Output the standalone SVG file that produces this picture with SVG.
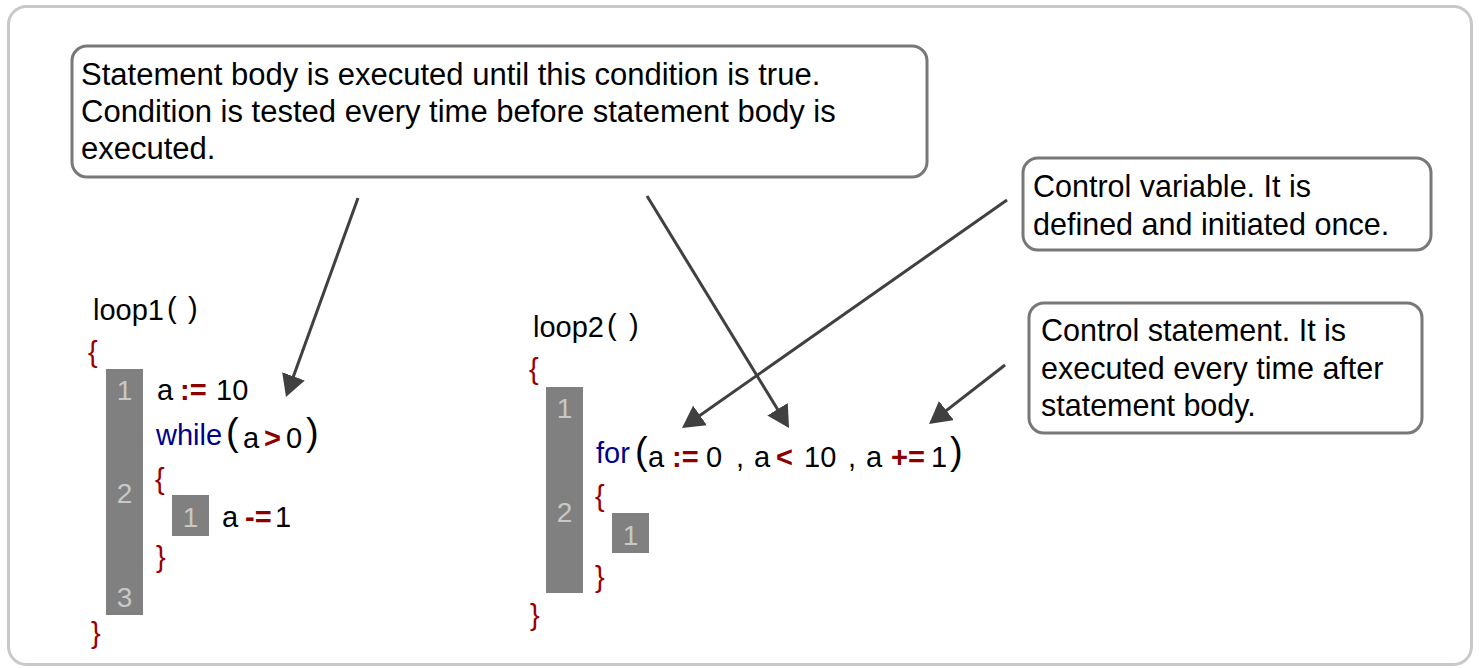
<svg xmlns="http://www.w3.org/2000/svg" width="1479" height="668" viewBox="0 0 1479 668">
<style>
text{font-family:"Liberation Sans",Arial,sans-serif;fill:#000}
.c1{font-size:31px}
.c2{font-size:30.5px}
.code{font-size:29px}
.op{font-size:29px;font-weight:bold;fill:#8b0000}
.kw{font-size:29px;fill:#00008b}
.br{font-size:29px;fill:#990000}
.par{font-size:38px}
.num{font-size:28px;fill:#c8c8c8;text-anchor:middle}
.box{fill:#fff;stroke:#787878;stroke-width:3}
.bar{fill:#808080}
.conn line{stroke:#404040;stroke-width:3;marker-end:url(#ah)}
</style>
<defs>
<marker id="ah" viewBox="0 0 22 24" refX="12" refY="12" markerWidth="22" markerHeight="24" markerUnits="userSpaceOnUse" orient="auto">
<path d="M0,0 L22,12 L0,24 z" fill="#404040"/>
</marker>
</defs>
<rect x="8.5" y="6.5" width="1463" height="658" rx="18" fill="#fff" stroke="#c8c8c8" stroke-width="3"/>

<g id="callout-condition">
<rect class="box" x="72" y="46" width="855" height="131" rx="15"/>
<text class="c1" x="81" y="85">Statement body is executed until this condition is true.</text>
<text class="c1" x="81" y="122">Condition is tested every time before statement body is</text>
<text class="c1" x="81" y="159">executed.</text>
</g>

<g id="callout-control-variable">
<rect class="box" x="1023" y="158" width="408" height="92" rx="15"/>
<text class="c2" x="1033" y="197">Control variable. It is</text>
<text class="c2" x="1033" y="235">defined and initiated once.</text>
</g>

<g id="callout-control-statement">
<rect class="box" x="1029" y="303" width="393" height="130" rx="15"/>
<text class="c2" x="1041" y="341">Control statement. It is</text>
<text class="c2" x="1041" y="379">executed every time after</text>
<text class="c2" x="1041" y="416">statement body.</text>
</g>

<g id="loop1">
<text class="code" x="93" y="320">loop1</text>
<text class="code" x="167" y="318" font-size="32">(</text>
<text class="code" x="188" y="318" font-size="32">)</text>
<text class="br" x="88" y="362">{</text>
<rect class="bar" x="106" y="369" width="37" height="246"/>
<text class="num" x="124.5" y="400">1</text>
<text class="num" x="124.5" y="503">2</text>
<text class="num" x="124.5" y="607">3</text>
<text class="code" x="157" y="400">a</text>
<text class="op" x="180" y="400">:=</text>
<text class="code" x="216" y="400">10</text>
<text class="kw" x="156" y="445">while</text>
<text class="par" x="226" y="445">(</text>
<text class="code" x="243" y="448">a</text>
<text class="op" x="264" y="448">&gt;</text>
<text class="code" x="286" y="448">0</text>
<text class="par" x="306" y="445">)</text>
<text class="br" x="155" y="489">{</text>
<rect class="bar" x="172" y="495" width="37" height="41"/>
<text class="num" x="190.5" y="527">1</text>
<text class="code" x="222" y="527">a</text>
<text class="op" x="245" y="527">-=</text>
<text class="code" x="275" y="527">1</text>
<text class="br" x="156" y="567">}</text>
<text class="br" x="91" y="643">}</text>
</g>

<g id="loop2">
<text class="code" x="533" y="337">loop2</text>
<text class="code" x="607" y="335" font-size="32">(</text>
<text class="code" x="629" y="335" font-size="32">)</text>
<text class="br" x="529" y="379">{</text>
<rect class="bar" x="546" y="387" width="37" height="206"/>
<text class="num" x="564.5" y="418">1</text>
<text class="num" x="564.5" y="522">2</text>
<text class="kw" x="596" y="463">for</text>
<text class="par" x="635" y="464" font-size="40">(</text>
<text class="code" x="648" y="467">a</text>
<text class="op" x="672" y="467">:=</text>
<text class="code" x="706" y="467">0</text>
<text class="code" x="736" y="467">,</text>
<text class="code" x="754" y="467">a</text>
<text class="op" x="776" y="467">&lt;</text>
<text class="code" x="804" y="467">10</text>
<text class="code" x="848" y="467">,</text>
<text class="code" x="866" y="467">a</text>
<text class="op" x="891" y="467">+=</text>
<text class="code" x="931" y="467">1</text>
<text class="par" x="950" y="464" font-size="40">)</text>
<text class="br" x="595" y="506">{</text>
<rect class="bar" x="612" y="513" width="37" height="40"/>
<text class="num" x="630.5" y="545">1</text>
<text class="br" x="595" y="587">}</text>
<text class="br" x="530" y="625">}</text>
</g>

<g id="connectors" class="conn">
<line x1="358" y1="198" x2="289.4" y2="387.6"/>
<line x1="647" y1="196" x2="783.8" y2="419.5"/>
<line x1="1007" y1="200" x2="690.2" y2="422.3"/>
<line x1="1005" y1="365" x2="936.9" y2="417.9"/>
</g>
</svg>
